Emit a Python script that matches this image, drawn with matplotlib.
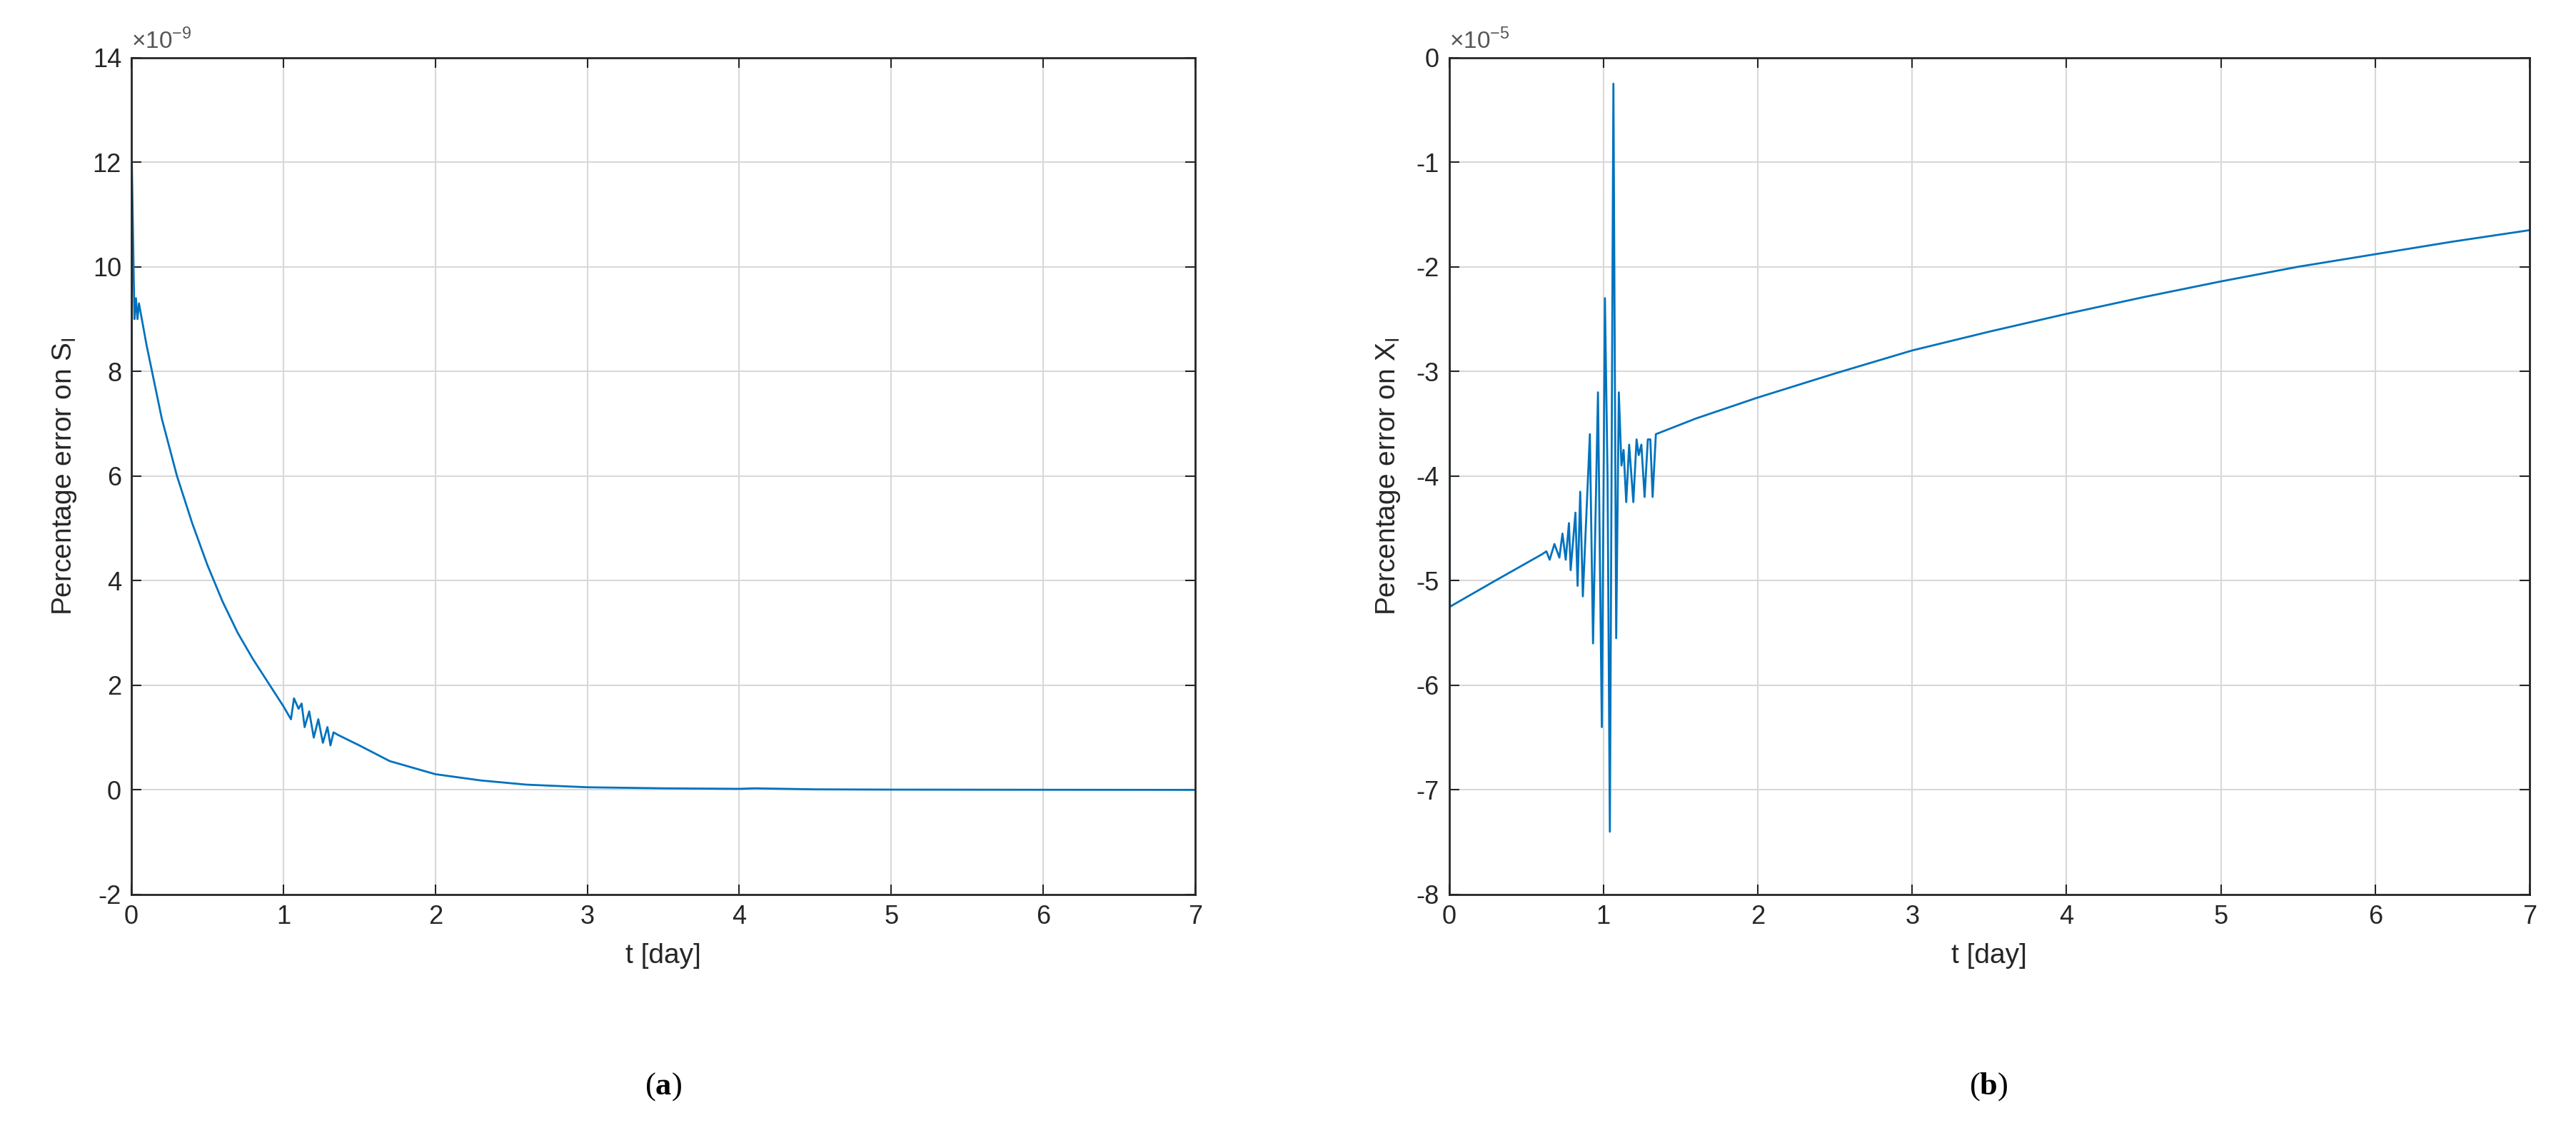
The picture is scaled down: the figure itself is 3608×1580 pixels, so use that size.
import numpy as np
import matplotlib
matplotlib.use('Agg')
import matplotlib.pyplot as plt

plt.rcParams['font.family'] = 'Liberation Sans'
plt.rcParams['mathtext.fontset'] = 'custom'
plt.rcParams['mathtext.rm'] = 'Liberation Sans'
plt.rcParams['mathtext.bf'] = 'Liberation Serif:bold'
plt.rcParams['axes.unicode_minus'] = False

# panel (a): percentage error on S_I, units of 1e-9
tS = [0, 0.003, 0.02, 0.03, 0.04, 0.05, 0.1, 0.2, 0.3, 0.4, 0.5, 0.6, 0.7, 0.8, 0.9, 1.0, 1.05,
      1.07, 1.10, 1.12, 1.14, 1.17, 1.20, 1.23, 1.26, 1.29, 1.31, 1.33, 1.36,
      1.5, 1.7, 2.0, 2.3, 2.6, 3.0, 3.5, 4.0, 4.1, 4.5, 5.0, 6.0, 7.0]
eS = [0, 12.0, 9.0, 9.4, 9.0, 9.3, 8.5, 7.1, 6.0, 5.1, 4.3, 3.6, 3.0, 2.5, 2.05, 1.6, 1.35,
      1.75, 1.55, 1.65, 1.2, 1.5, 1.0, 1.35, 0.9, 1.2, 0.85, 1.1, 1.05,
      0.85, 0.55, 0.3, 0.18, 0.1, 0.05, 0.03, 0.02, 0.03, 0.01, 0.005, 0.002, 0.0]

# panel (b): percentage error on X_I, units of 1e-5
tX = [0, 0.005, 0.3, 0.6, 0.631, 0.652, 0.683, 0.715, 0.735, 0.756, 0.777, 0.788, 0.819,
      0.833, 0.85, 0.867, 0.9125, 0.933, 0.965, 0.99, 1.01, 1.027, 1.042, 1.065, 1.083,
      1.10, 1.117, 1.131, 1.148, 1.167, 1.194, 1.215, 1.229, 1.246, 1.267, 1.288, 1.304,
      1.319, 1.34, 1.6, 2.0, 2.5, 3.0, 3.5, 4.0, 4.5, 5.0, 5.5, 6.0, 6.5, 7.0]
eX = [0, -5.25, -5.0, -4.75, -4.72, -4.8, -4.65, -4.78, -4.55, -4.8, -4.45, -4.9, -4.35,
      -5.05, -4.15, -5.15, -3.6, -5.6, -3.2, -6.4, -2.3, -4.0, -7.4, -0.25, -5.55,
      -3.2, -3.9, -3.75, -4.25, -3.7, -4.25, -3.65, -3.8, -3.7, -4.2, -3.65, -3.65,
      -4.2, -3.6, -3.45, -3.25, -3.02, -2.8, -2.62, -2.45, -2.29, -2.14, -2.0, -1.88, -1.76, -1.65]

line_col = '#0072BD'
txt_col = '#262626'

fig = plt.figure(figsize=(36.08, 15.8), dpi=100)
axA = fig.add_axes([0.051, 0.207, 0.413, 0.742])
axB = fig.add_axes([0.5625, 0.207, 0.4195, 0.742])

for ax, t, e, ylim, yt, lab, mult in [
        (axA, tS, eS, (-2, 14), range(-2, 15, 2), r'Percentage error on S$_\mathrm{I}$', r'$\times10^{-9}$'),
        (axB, tX, eX, (-8, 0), range(-8, 1), r'Percentage error on X$_\mathrm{I}$', r'$\times10^{-5}$')]:
    ax.plot(t, e, color=line_col, lw=2)
    ax.set_xlim(0, 7)
    ax.set_ylim(*ylim)
    ax.set_xticks(range(0, 8))
    ax.set_yticks(list(yt))
    ax.grid(True, color='#d8d8d8', lw=1.5)
    ax.set_axisbelow(True)
    ax.tick_params(labelsize=26, colors=txt_col, direction='in', length=10, width=1.5, top=True, right=True, pad=10)
    for s in ax.spines.values():
        s.set_color(txt_col)
        s.set_linewidth(2)
    ax.set_xlabel('t [day]', fontsize=28, color=txt_col, labelpad=14)
    ax.set_ylabel(lab, fontsize=28, color=txt_col, labelpad=14)
    ax.text(0, 1.005, mult, transform=ax.transAxes, fontsize=24, color='#555555', va='bottom', ha='left')

fig.text(0.2575, 0.03, r'($\mathbf{a}$)', fontsize=32, ha='center', family='Liberation Serif')
fig.text(0.772, 0.03, r'($\mathbf{b}$)', fontsize=32, ha='center', family='Liberation Serif')

fig.savefig('out.png', dpi=100)
